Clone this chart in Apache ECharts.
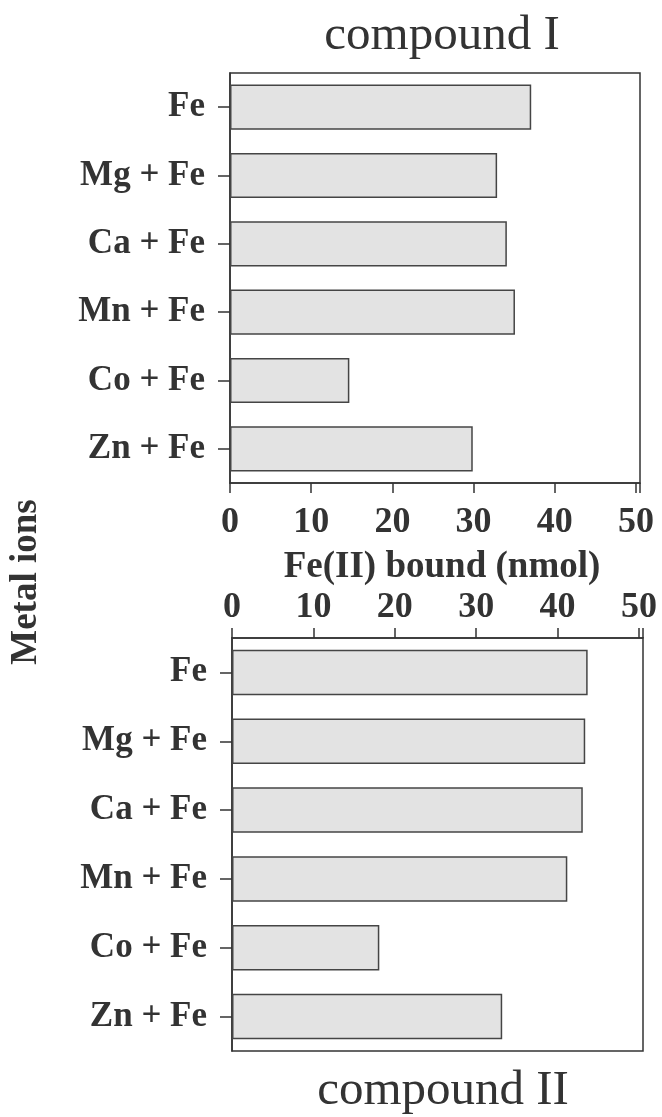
<!DOCTYPE html>
<html>
<head>
<meta charset="utf-8">
<script src="https://cdn.jsdelivr.net/npm/echarts@6/dist/echarts.min.js"></script>
<style>
  html, body { margin: 0; padding: 0; background: #fff; }
  #chart { width: 662px; height: 1117px; }
</style>
</head>
<body>
<div id="chart"></div>
<script>
// datos
var categorias = ['Fe', 'Mg + Fe', 'Ca + Fe', 'Mn + Fe', 'Co + Fe', 'Zn + Fe'];
var compuesto1 = [37.1, 32.9, 34.1, 35.1, 14.7, 29.9];
var compuesto2 = [43.7, 43.4, 43.1, 41.2, 18.1, 33.2];
var ticksX = [0, 10, 20, 30, 40, 50];

var fuente = '"Liberation Serif", "DejaVu Serif", serif';
var gris = '#333333';

var chart = echarts.init(document.getElementById('chart'));

function ejeX(idx, pos, margen) {
  return {
    type: 'value',
    gridIndex: idx,
    position: pos,
    min: 0,
    max: 50.5,
    interval: 10,
    axisLine: { show: true, lineStyle: { color: gris, width: 1.5 } },
    axisTick: { show: true, length: 10, lineStyle: { color: gris, width: 1.5 } },
    splitLine: { show: false },
    axisLabel: {
      color: gris, fontFamily: fuente, fontWeight: 'bold', fontSize: 36, margin: margen,
      formatter: function (v) { return ticksX.indexOf(v) >= 0 ? String(v) : ''; }
    }
  };
}

function ejeY(idx) {
  return {
    type: 'category',
    gridIndex: idx,
    data: categorias,
    inverse: true,
    axisLine: { show: true, lineStyle: { color: gris, width: 1.5 } },
    axisTick: { show: true, alignWithLabel: true, length: 12, lineStyle: { color: gris, width: 1.5 } },
    axisLabel: { color: gris, fontFamily: fuente, fontWeight: 'bold', fontSize: 35, margin: 25 }
  };
}

function serie(idx, datos) {
  return {
    type: 'bar',
    xAxisIndex: idx,
    yAxisIndex: idx,
    data: datos,
    barWidth: '66%',
    itemStyle: { color: '#e3e3e3', borderColor: '#454545', borderWidth: 1.5 },
    animation: false
  };
}

var option = {
  backgroundColor: '#fff',
  animation: false,
  title: [
    { text: 'compound I', left: 437, top: 7, textAlign: 'center',
      textStyle: { fontFamily: fuente, fontWeight: 'normal', fontSize: 49, color: gris } },
    { text: 'compound II', left: 438, top: 1062, textAlign: 'center',
      textStyle: { fontFamily: fuente, fontWeight: 'normal', fontSize: 49, color: gris } }
  ],
  grid: [
    { left: 230, top: 73, width: 410, height: 410, show: true, borderColor: gris, borderWidth: 1.5, backgroundColor: 'transparent' },
    { left: 232, top: 638, width: 411, height: 413, show: true, borderColor: gris, borderWidth: 1.5, backgroundColor: 'transparent' }
  ],
  xAxis: [ejeX(0, 'bottom', 22), ejeX(1, 'top', 12)],
  yAxis: [ejeY(0), ejeY(1)],
  series: [serie(0, compuesto1), serie(1, compuesto2)],
  graphic: [
    { type: 'text', x: 442, y: 567, style: { text: 'Fe(II) bound (nmol)', font: 'bold 37px ' + fuente, fill: gris, textAlign: 'center', textVerticalAlign: 'middle' } },
    { type: 'text', x: 26, y: 582, rotation: Math.PI / 2, style: { text: 'Metal ions', font: 'bold 37px ' + fuente, fill: gris, textAlign: 'center', textVerticalAlign: 'middle' } }
  ]
};

chart.setOption(option);
</script>
</body>
</html>
